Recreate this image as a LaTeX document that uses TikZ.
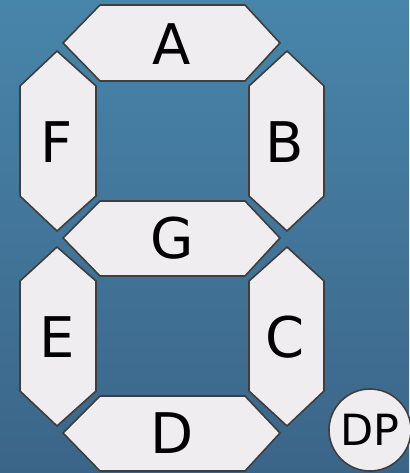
\documentclass[tikz,border=0pt]{standalone}
\usepackage{fontspec}
\setmainfont{DejaVu Sans}
\definecolor{bgtop}{RGB}{72,133,170}
\definecolor{bgbot}{RGB}{59,101,136}
\definecolor{segfill}{RGB}{240,237,241}
\definecolor{segline}{RGB}{62,62,62}
\begin{document}
\begin{tikzpicture}[x=1pt,y=-1pt,
  seg/.style={fill=segfill,draw=segline,line width=1.6pt,line join=miter},
  lbl/.style={inner sep=0pt,font=\fontsize{56}{60}\selectfont,text=black},
  dplbl/.style={circle,fill=segfill,draw=segline,line width=1.6pt,inner sep=0pt,minimum size=82pt,font=\fontsize{43}{46}\selectfont,text=black}]
\useasboundingbox (0,0) rectangle (409,473);
\shade[top color=bgtop,bottom color=bgbot] (0,0) rectangle (409,473);
% horizontal segments
\draw[seg] (63,43) -- (100,5) -- (245,5) -- (280,43) -- (245,81) -- (100,81) -- cycle;
\draw[seg] (63,238) -- (100,201) -- (245,201) -- (280,238) -- (245,276) -- (100,276) -- cycle;
\draw[seg] (63,433) -- (100,396) -- (245,396) -- (280,433) -- (245,471) -- (100,471) -- cycle;
% vertical segments
\draw[seg] (57,51) -- (96,86) -- (96,196) -- (57,231) -- (20,196) -- (20,86) -- cycle;
\draw[seg] (287,51) -- (324,86) -- (324,196) -- (287,231) -- (249,196) -- (249,86) -- cycle;
\draw[seg] (57,247) -- (96,281) -- (96,391) -- (57,426) -- (20,391) -- (20,281) -- cycle;
\draw[seg] (287,247) -- (324,281) -- (324,391) -- (287,426) -- (249,391) -- (249,281) -- cycle;
% labels
\node[lbl] (la) at (172,44) {A};
\node[lbl] (lg) at (172,238) {G};
\node[lbl] (ld) at (172,433) {D};
\node[lbl] (lf) at (57,142) {F};
\node[lbl] (lb) at (285,142) {B};
\node[lbl] (le) at (57,337) {E};
\node[lbl] (lc) at (285,337) {C};
\node[dplbl] (dp) at (370,430) {DP};
\end{tikzpicture}
\end{document}
